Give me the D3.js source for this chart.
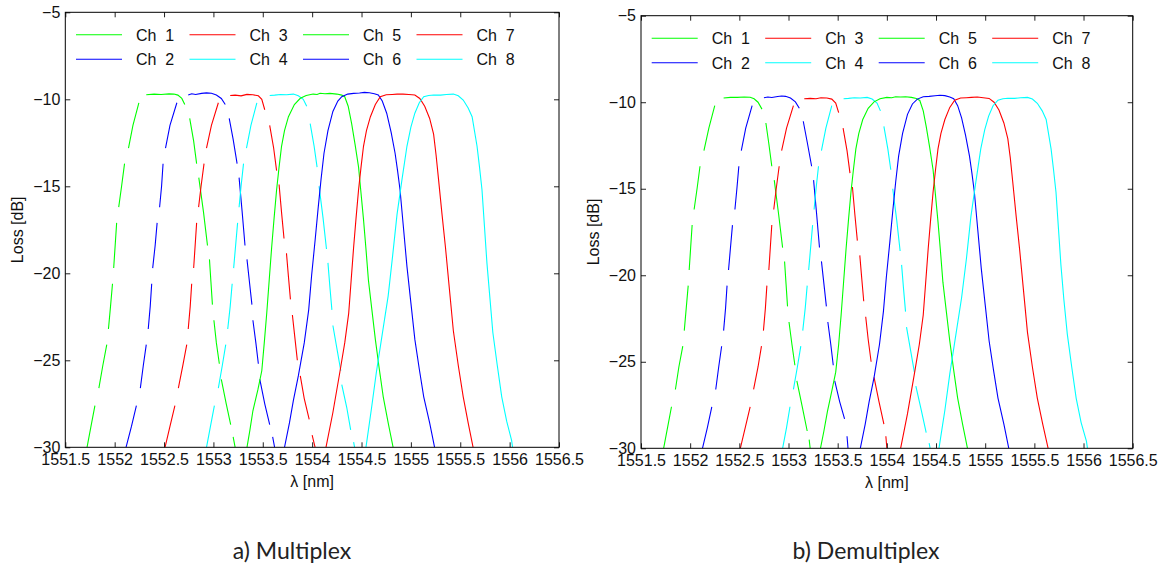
<!DOCTYPE html>
<html>
<head>
<meta charset="utf-8">
<script src="https://cdn.jsdelivr.net/npm/d3@7"></script>
<style>
  html, body { margin: 0; padding: 0; background: #fff; }
  svg { display: block; }
  .tick text, .legend text, .axis-label { font-family: "Liberation Sans", Arial, sans-serif; fill: #111; }
  .caption { font-family: Lato, "Open Sans", sans-serif; fill: #222; }
</style>
</head>
<body>
<svg id="fig" width="1164" height="569"></svg>
<script>
// Axis ticks and labels
const xTicks = [1551.5, 1552, 1552.5, 1553, 1553.5, 1554, 1554.5, 1555, 1555.5, 1556, 1556.5];
const yTicks = [-30, -25, -20, -15, -10, -5];
const channelNames = ["Ch  1", "Ch  2", "Ch  3", "Ch  4", "Ch  5", "Ch  6", "Ch  7", "Ch  8"];
const channelColors = ["#00ff00", "#0000ff", "#ff0000", "#00ffff", "#00ff00", "#0000ff", "#ff0000", "#00ffff"];
const panelCaptions = ["a) Multiplex", "b) Demultiplex"];

// Multiplexer transmission [wavelength nm, loss dB]; null marks a missing stretch of samples.
const muxCh1 = [
  [1551.72,-30],[1551.76,-28.8],[1551.80,-27.6],null,
  [1551.84,-26.6],[1551.88,-25.3],[1551.92,-24.1],null,
  [1551.937,-23.2],[1551.958,-21.9],[1551.978,-20.6],null,
  [1551.99,-19.7],[1552.005,-18.4],[1552.02,-17.1],null,
  [1552.041,-16.2],[1552.07,-15.0],[1552.10,-13.7],null,
  [1552.14,-12.8],[1552.185,-11.5],[1552.245,-10.2],null,
  [1552.32,-9.74],[1552.40,-9.7],[1552.47,-9.72],[1552.55,-9.69],[1552.60,-9.7],[1552.64,-9.76],[1552.68,-9.95],[1552.71,-10.3],null,
  [1552.76,-11.1],[1552.80,-12.4],[1552.83,-13.7],null,
  [1552.852,-14.5],[1552.90,-16.5],[1552.94,-18.4],null,
  [1552.96,-19.2],[1552.975,-20.5],[1552.99,-21.8],null,
  [1553.005,-22.7],[1553.03,-24.0],[1553.06,-25.2],null,
  [1553.08,-26.1],[1553.13,-27.5],[1553.175,-28.7],null,
  [1553.20,-29.4],[1553.22,-30]
];
const muxCh2 = [
  [1552.115,-30],[1552.17,-28.8],[1552.22,-27.6],null,
  [1552.26,-26.6],[1552.29,-25.3],[1552.32,-24.1],null,
  [1552.34,-23.2],[1552.36,-21.9],[1552.375,-20.6],null,
  [1552.385,-19.7],[1552.41,-18.4],[1552.43,-17.1],null,
  [1552.455,-16.2],[1552.475,-15.0],[1552.49,-13.7],null,
  [1552.515,-12.8],[1552.56,-11.5],[1552.63,-10.2],null,
  [1552.745,-9.75],[1552.78,-9.68],[1552.82,-9.72],[1552.88,-9.66],[1552.93,-9.63],[1552.98,-9.65],[1553.03,-9.75],[1553.08,-9.95],[1553.12,-10.3],null,
  [1553.16,-11.1],[1553.20,-12.3],[1553.24,-13.7],null,
  [1553.26,-14.5],[1553.29,-16.4],[1553.32,-18.4],null,
  [1553.34,-19.2],[1553.365,-20.5],[1553.39,-21.8],null,
  [1553.40,-22.7],[1553.43,-24.0],[1553.455,-25.2],null,
  [1553.47,-26.1],[1553.52,-27.5],[1553.57,-28.7],null,
  [1553.60,-29.4],[1553.62,-30]
];
const muxCh3 = [
  [1552.51,-30],[1552.56,-28.8],[1552.61,-27.6],null,
  [1552.645,-26.6],[1552.69,-25.3],[1552.73,-24.1],null,
  [1552.745,-23.2],[1552.765,-21.9],[1552.78,-20.6],null,
  [1552.80,-19.7],[1552.815,-18.4],[1552.83,-17.1],null,
  [1552.85,-16.2],[1552.875,-15.0],[1552.905,-13.7],null,
  [1552.93,-12.8],[1552.98,-11.5],[1553.05,-10.2],null,
  [1553.17,-9.78],[1553.22,-9.76],[1553.28,-9.8],[1553.34,-9.72],[1553.40,-9.74],[1553.455,-9.8],[1553.49,-10.0],[1553.52,-10.6],null,
  [1553.57,-11.5],[1553.61,-12.8],[1553.64,-14.1],null,
  [1553.665,-14.9],[1553.69,-16.5],[1553.715,-18.0],null,
  [1553.74,-18.85],[1553.76,-20.2],[1553.78,-21.5],null,
  [1553.80,-22.4],[1553.825,-23.7],[1553.85,-25.0],null,
  [1553.88,-25.9],[1553.92,-27.2],[1553.97,-28.4],null,
  [1554.00,-29.3],[1554.03,-30]
];
const muxCh4 = [
  [1552.93,-30],[1552.97,-28.8],[1553.01,-27.6],null,
  [1553.05,-26.6],[1553.09,-25.3],[1553.125,-24.1],null,
  [1553.145,-23.2],[1553.17,-21.9],[1553.19,-20.6],null,
  [1553.205,-19.7],[1553.225,-18.4],[1553.245,-17.1],null,
  [1553.26,-16.2],[1553.28,-15.0],[1553.305,-13.7],null,
  [1553.335,-12.8],[1553.38,-11.5],[1553.44,-10.2],null,
  [1553.57,-9.78],[1553.62,-9.76],[1553.68,-9.72],[1553.74,-9.74],[1553.81,-9.7],[1553.86,-9.8],[1553.91,-10.0],[1553.945,-10.4],null,
  [1553.98,-11.4],[1554.02,-12.7],[1554.05,-13.9],null,
  [1554.07,-15.0],[1554.11,-16.8],[1554.145,-18.6],null,
  [1554.16,-19.4],[1554.18,-20.8],[1554.20,-22.1],null,
  [1554.21,-23.0],[1554.25,-24.3],[1554.29,-25.6],null,
  [1554.30,-26.4],[1554.35,-27.7],[1554.39,-29.0],null,
  [1554.42,-29.7],[1554.43,-30]
];
const muxCh5 = [
  [1553.34,-30],[1553.37,-29.0],[1553.40,-27.9],[1553.45,-26.7],[1553.49,-25.6],[1553.515,-24.0],[1553.54,-22.3],
  [1553.565,-20.4],[1553.59,-18.5],[1553.615,-16.8],[1553.64,-15.2],[1553.665,-13.9],[1553.69,-12.7],[1553.72,-11.8],
  [1553.76,-11.0],[1553.82,-10.3],[1553.88,-9.94],[1553.94,-9.78],[1554.01,-9.7],[1554.05,-9.72],[1554.08,-9.65],
  [1554.13,-9.68],[1554.18,-9.66],[1554.25,-9.7],[1554.30,-9.76],[1554.33,-9.85],[1554.365,-10.4],[1554.40,-11.4],
  [1554.435,-12.6],[1554.47,-13.9],[1554.495,-15.4],[1554.52,-16.9],[1554.545,-18.6],[1554.57,-20.4],[1554.605,-22.1],
  [1554.64,-23.8],[1554.68,-25.5],[1554.72,-27.1],[1554.77,-28.6],[1554.82,-30]
];
const muxCh6 = [
  [1553.72,-30],[1553.77,-28.6],[1553.81,-27.3],[1553.86,-25.9],[1553.92,-24.0],[1553.965,-22.1],[1553.995,-20.1],
  [1554.03,-18.1],[1554.06,-16.3],[1554.09,-14.6],[1554.12,-13.1],[1554.16,-11.8],[1554.21,-10.7],[1554.26,-10.1],
  [1554.30,-9.85],[1554.36,-9.7],[1554.42,-9.66],[1554.48,-9.64],[1554.53,-9.6],[1554.58,-9.62],[1554.63,-9.68],
  [1554.67,-9.75],[1554.71,-10.1],[1554.755,-10.8],[1554.80,-11.9],[1554.84,-13.1],[1554.865,-14.1],[1554.89,-15.2],
  [1554.925,-17.4],[1554.96,-19.6],[1555.0,-21.7],[1555.04,-23.8],[1555.085,-25.5],[1555.13,-27.1],[1555.19,-28.6],[1555.24,-30]
];
const muxCh7 = [
  [1554.14,-30],[1554.21,-28.0],[1554.28,-25.7],[1554.33,-24.0],[1554.37,-22.3],[1554.395,-20.4],[1554.42,-18.5],
  [1554.445,-16.8],[1554.47,-15.2],[1554.495,-13.9],[1554.52,-12.7],[1554.55,-11.8],[1554.59,-11.0],[1554.64,-10.3],
  [1554.69,-9.85],[1554.75,-9.74],[1554.81,-9.72],[1554.86,-9.7],[1554.92,-9.7],[1554.98,-9.72],[1555.04,-9.75],
  [1555.09,-9.95],[1555.14,-10.4],[1555.19,-11.1],[1555.23,-12.0],[1555.255,-13.2],[1555.28,-14.6],[1555.315,-16.6],
  [1555.35,-18.5],[1555.39,-20.9],[1555.43,-23.3],[1555.48,-25.3],[1555.53,-27.1],[1555.58,-28.6],[1555.63,-30]
];
const muxCh8 = [
  [1554.545,-30],[1554.60,-27.8],[1554.65,-25.7],[1554.71,-23.5],[1554.77,-21.3],[1554.815,-19.0],[1554.86,-16.6],
  [1554.91,-14.6],[1554.96,-12.7],[1555.0,-11.6],[1555.04,-10.8],[1555.085,-10.2],[1555.13,-9.85],[1555.18,-9.78],
  [1555.23,-9.75],[1555.30,-9.76],[1555.36,-9.72],[1555.43,-9.7],[1555.48,-9.8],[1555.53,-10.04],[1555.58,-10.5],
  [1555.62,-11.0],[1555.67,-12.7],[1555.695,-13.9],[1555.72,-15.2],[1555.745,-17.3],[1555.77,-19.4],[1555.80,-21.4],
  [1555.83,-23.4],[1555.875,-25.3],[1555.92,-27.1],[1555.97,-28.5],[1556.02,-29.6],[1556.03,-30]
];

// Demultiplexer transmission [wavelength nm, loss dB]
const demuxCh1 = [
  [1551.73,-30],[1551.77,-28.8],[1551.81,-27.6],null,
  [1551.85,-26.6],[1551.885,-25.3],[1551.925,-24.1],null,
  [1551.94,-23.2],[1551.96,-21.9],[1551.98,-20.6],null,
  [1551.99,-19.7],[1552.005,-18.4],[1552.02,-17.1],null,
  [1552.04,-16.2],[1552.07,-15.0],[1552.10,-13.7],null,
  [1552.14,-12.8],[1552.19,-11.5],[1552.25,-10.2],null,
  [1552.34,-9.76],[1552.41,-9.72],[1552.48,-9.72],[1552.55,-9.7],[1552.61,-9.71],[1552.65,-9.8],[1552.69,-10.0],[1552.73,-10.4],null,
  [1552.77,-11.2],[1552.80,-12.4],[1552.83,-13.7],null,
  [1552.855,-14.5],[1552.90,-16.5],[1552.94,-18.4],null,
  [1552.96,-19.2],[1552.975,-20.5],[1552.99,-21.8],null,
  [1553.005,-22.7],[1553.035,-24.0],[1553.065,-25.2],null,
  [1553.085,-26.1],[1553.14,-27.6],[1553.19,-29.0],null,
  [1553.21,-29.5],[1553.22,-30]
];
const demuxCh2 = [
  [1552.125,-30],[1552.175,-28.8],[1552.22,-27.6],null,
  [1552.26,-26.6],[1552.29,-25.3],[1552.32,-24.1],null,
  [1552.34,-23.2],[1552.36,-21.9],[1552.375,-20.6],null,
  [1552.39,-19.7],[1552.41,-18.4],[1552.43,-17.1],null,
  [1552.455,-16.2],[1552.475,-15.0],[1552.495,-13.7],null,
  [1552.52,-12.8],[1552.565,-11.5],[1552.63,-10.2],null,
  [1552.75,-9.74],[1552.79,-9.7],[1552.83,-9.73],[1552.89,-9.67],[1552.93,-9.64],[1552.97,-9.66],[1553.02,-9.76],[1553.07,-9.98],[1553.11,-10.35],null,
  [1553.15,-11.1],[1553.19,-12.3],[1553.235,-13.7],null,
  [1553.255,-14.5],[1553.285,-16.4],[1553.315,-18.4],null,
  [1553.335,-19.2],[1553.36,-20.5],[1553.385,-21.8],null,
  [1553.40,-22.7],[1553.43,-24.0],[1553.455,-25.2],null,
  [1553.47,-26.1],[1553.52,-27.3],[1553.57,-28.3],null,
  [1553.595,-29.3],[1553.605,-30]
];
const demuxCh3 = [
  [1552.51,-30],[1552.56,-28.8],[1552.61,-27.6],null,
  [1552.645,-26.6],[1552.69,-25.3],[1552.725,-24.1],null,
  [1552.745,-23.2],[1552.765,-21.9],[1552.78,-20.6],null,
  [1552.80,-19.7],[1552.815,-18.4],[1552.83,-17.1],null,
  [1552.85,-16.2],[1552.875,-15.0],[1552.905,-13.7],null,
  [1552.93,-12.8],[1552.98,-11.5],[1553.05,-10.2],null,
  [1553.16,-9.8],[1553.22,-9.78],[1553.28,-9.8],[1553.33,-9.74],[1553.39,-9.76],[1553.44,-9.82],[1553.48,-10.05],[1553.51,-10.6],null,
  [1553.555,-11.5],[1553.595,-12.8],[1553.625,-14.1],null,
  [1553.65,-14.9],[1553.675,-16.5],[1553.70,-18.0],null,
  [1553.725,-18.85],[1553.745,-20.2],[1553.765,-21.5],null,
  [1553.785,-22.4],[1553.81,-23.7],[1553.84,-25.0],null,
  [1553.87,-25.9],[1553.92,-27.3],[1553.97,-28.6],null,
  [1553.99,-29.3],[1554.0,-30]
];
const demuxCh4 = [
  [1552.94,-30],[1552.98,-28.8],[1553.015,-27.6],null,
  [1553.05,-26.6],[1553.09,-25.3],[1553.125,-24.1],null,
  [1553.145,-23.2],[1553.17,-21.9],[1553.19,-20.6],null,
  [1553.205,-19.7],[1553.225,-18.4],[1553.245,-17.1],null,
  [1553.26,-16.2],[1553.28,-15.0],[1553.305,-13.7],null,
  [1553.335,-12.8],[1553.38,-11.5],[1553.44,-10.2],null,
  [1553.56,-9.8],[1553.61,-9.78],[1553.67,-9.74],[1553.73,-9.76],[1553.80,-9.72],[1553.85,-9.82],[1553.90,-10.05],[1553.935,-10.5],null,
  [1553.97,-11.4],[1554.01,-12.7],[1554.04,-13.9],null,
  [1554.06,-15.0],[1554.10,-16.8],[1554.135,-18.6],null,
  [1554.15,-19.4],[1554.17,-20.8],[1554.19,-22.1],null,
  [1554.20,-23.0],[1554.24,-24.3],[1554.28,-25.6],null,
  [1554.295,-26.4],[1554.35,-27.8],[1554.40,-29.1],null,
  [1554.43,-29.7],[1554.44,-30]
];
const demuxCh5 = [
  [1553.325,-30],[1553.36,-29.0],[1553.395,-27.9],[1553.44,-26.7],[1553.48,-25.6],[1553.51,-24.0],[1553.535,-22.3],
  [1553.56,-20.4],[1553.585,-18.5],[1553.61,-16.8],[1553.635,-15.2],[1553.66,-13.9],[1553.685,-12.7],[1553.715,-11.8],
  [1553.755,-11.0],[1553.81,-10.35],[1553.87,-9.98],[1553.93,-9.8],[1554.0,-9.72],[1554.05,-9.74],[1554.09,-9.68],
  [1554.14,-9.7],[1554.19,-9.68],[1554.25,-9.72],[1554.30,-9.78],[1554.335,-9.9],[1554.37,-10.5],[1554.40,-11.4],
  [1554.435,-12.6],[1554.47,-13.9],[1554.495,-15.4],[1554.52,-16.9],[1554.545,-18.6],[1554.57,-20.4],[1554.605,-22.1],
  [1554.64,-23.8],[1554.68,-25.5],[1554.72,-27.1],[1554.77,-28.6],[1554.82,-30]
];
const demuxCh6 = [
  [1553.73,-30],[1553.78,-28.6],[1553.82,-27.3],[1553.87,-25.9],[1553.925,-24.0],[1553.965,-22.1],[1553.995,-20.1],
  [1554.03,-18.1],[1554.06,-16.3],[1554.09,-14.6],[1554.12,-13.1],[1554.16,-11.8],[1554.21,-10.7],[1554.26,-10.1],
  [1554.31,-9.82],[1554.37,-9.68],[1554.43,-9.66],[1554.49,-9.63],[1554.54,-9.6],[1554.59,-9.62],[1554.64,-9.7],
  [1554.68,-9.8],[1554.72,-10.2],[1554.76,-10.9],[1554.80,-11.9],[1554.84,-13.1],[1554.865,-14.1],[1554.89,-15.2],
  [1554.925,-17.4],[1554.96,-19.6],[1555.0,-21.7],[1555.04,-23.8],[1555.085,-25.5],[1555.13,-27.1],[1555.19,-28.6],[1555.24,-30]
];
const demuxCh7 = [
  [1554.14,-30],[1554.21,-28.0],[1554.28,-25.7],[1554.33,-24.0],[1554.37,-22.3],[1554.395,-20.4],[1554.42,-18.5],
  [1554.445,-16.8],[1554.47,-15.2],[1554.495,-13.9],[1554.52,-12.7],[1554.55,-11.8],[1554.59,-11.0],[1554.64,-10.3],
  [1554.69,-9.88],[1554.75,-9.76],[1554.81,-9.74],[1554.86,-9.72],[1554.92,-9.7],[1554.98,-9.74],[1555.04,-9.78],
  [1555.09,-10.0],[1555.14,-10.45],[1555.19,-11.2],[1555.23,-12.1],[1555.255,-13.2],[1555.28,-14.6],[1555.315,-16.6],
  [1555.35,-18.5],[1555.39,-20.9],[1555.43,-23.3],[1555.48,-25.3],[1555.53,-27.1],[1555.585,-28.6],[1555.64,-30]
];
const demuxCh8 = [
  [1554.53,-30],[1554.59,-27.8],[1554.64,-25.7],[1554.70,-23.5],[1554.76,-21.3],[1554.81,-19.0],[1554.855,-16.6],
  [1554.905,-14.6],[1554.955,-12.7],[1554.995,-11.6],[1555.035,-10.8],[1555.08,-10.2],[1555.13,-9.88],[1555.18,-9.8],
  [1555.23,-9.77],[1555.30,-9.78],[1555.36,-9.74],[1555.43,-9.72],[1555.48,-9.82],[1555.53,-10.06],[1555.58,-10.5],
  [1555.62,-11.0],[1555.67,-12.7],[1555.695,-13.9],[1555.72,-15.2],[1555.745,-17.3],[1555.77,-19.4],[1555.80,-21.4],
  [1555.835,-23.4],[1555.88,-25.3],[1555.925,-27.1],[1555.975,-28.5],[1556.03,-29.6],[1556.04,-30]
];

const muxSeries = [muxCh1, muxCh2, muxCh3, muxCh4, muxCh5, muxCh6, muxCh7, muxCh8];
const demuxSeries = [demuxCh1, demuxCh2, demuxCh3, demuxCh4, demuxCh5, demuxCh6, demuxCh7, demuxCh8];

const svg = d3.select("#fig");

const panels = [
  { series: muxSeries,   caption: panelCaptions[0], left: 65.3, right: 559,    top: 12.3, bottom: 447.3, capX: 292 },
  { series: demuxSeries, caption: panelCaptions[1], left: 641,  right: 1132.7, top: 15.7, bottom: 448.3, capX: 866 }
];

panels.forEach((p, pi) => {
  const x = d3.scaleLinear().domain([1551.5, 1556.5]).range([p.left, p.right]);
  const y = d3.scaleLinear().domain([-30, -5]).range([p.bottom, p.top]);
  const g = svg.append("g");

  const clipId = "plotclip" + pi;
  g.append("clipPath").attr("id", clipId)
    .append("rect").attr("x", p.left).attr("y", p.top)
    .attr("width", p.right - p.left).attr("height", p.bottom - p.top);

  // Channel curves
  const line = d3.line()
    .defined(d => d !== null)
    .x(d => x(d[0]))
    .y(d => y(d[1]));
  g.append("g").attr("clip-path", `url(#${clipId})`)
    .selectAll("path").data(p.series).join("path")
    .attr("d", d => line(d))
    .attr("fill", "none")
    .attr("stroke", (d, i) => channelColors[i])
    .attr("stroke-width", 1.1);

  // Axes with inward ticks on all four sides
  const tickLen = 5;
  const styleAxis = sel => {
    sel.select(".domain").remove();
    sel.selectAll(".tick line").attr("stroke", "#222");
    sel.selectAll(".tick text").attr("font-size", 16);
  };
  g.append("g").attr("transform", `translate(0,${p.bottom})`)
    .call(d3.axisBottom(x).tickValues(xTicks).tickFormat(d3.format("")).tickSize(-tickLen).tickPadding(6.5))
    .call(styleAxis);
  g.append("g").attr("transform", `translate(0,${p.top})`)
    .call(d3.axisTop(x).tickValues(xTicks).tickFormat("").tickSize(-tickLen))
    .call(styleAxis);
  g.append("g").attr("transform", `translate(${p.left},0)`)
    .call(d3.axisLeft(y).tickValues(yTicks).tickFormat(d3.format("")).tickSize(-tickLen).tickPadding(5))
    .call(styleAxis);
  g.append("g").attr("transform", `translate(${p.right},0)`)
    .call(d3.axisRight(y).tickValues(yTicks).tickFormat("").tickSize(-tickLen))
    .call(styleAxis);

  g.append("rect")
    .attr("x", p.left).attr("y", p.top)
    .attr("width", p.right - p.left).attr("height", p.bottom - p.top)
    .attr("fill", "none").attr("stroke", "#000").attr("stroke-width", 1);

  // Axis titles
  g.append("text").attr("class", "axis-label")
    .attr("x", (p.left + p.right) / 2).attr("y", p.bottom + 40)
    .attr("text-anchor", "middle").attr("font-size", 16)
    .text("λ [nm]");
  g.append("text").attr("class", "axis-label")
    .attr("transform", `translate(${p.left - 42},${(p.top + p.bottom) / 2}) rotate(-90)`)
    .attr("text-anchor", "middle").attr("font-size", 16)
    .text("Loss [dB]");

  // Legend: two rows, four columns
  const leg = g.append("g").attr("class", "legend");
  channelNames.forEach((name, i) => {
    const col = Math.floor(i / 2), row = i % 2;
    const lx = p.left + 10.7 + col * 113.5;
    const ly = p.top + 22.5 + row * 24.5;
    leg.append("line")
      .attr("x1", lx).attr("x2", lx + 46)
      .attr("y1", ly).attr("y2", ly)
      .attr("stroke", channelColors[i]).attr("stroke-width", 1.1);
    leg.append("text")
      .attr("x", lx + 60).attr("y", ly + 6)
      .attr("font-size", 16)
      .style("white-space", "pre")
      .text(name);
  });

  // Panel caption
  svg.append("text").attr("class", "caption")
    .attr("x", p.capX).attr("y", 559)
    .attr("text-anchor", "middle").attr("font-size", 23)
    .text(p.caption);
});
</script>
</body>
</html>
